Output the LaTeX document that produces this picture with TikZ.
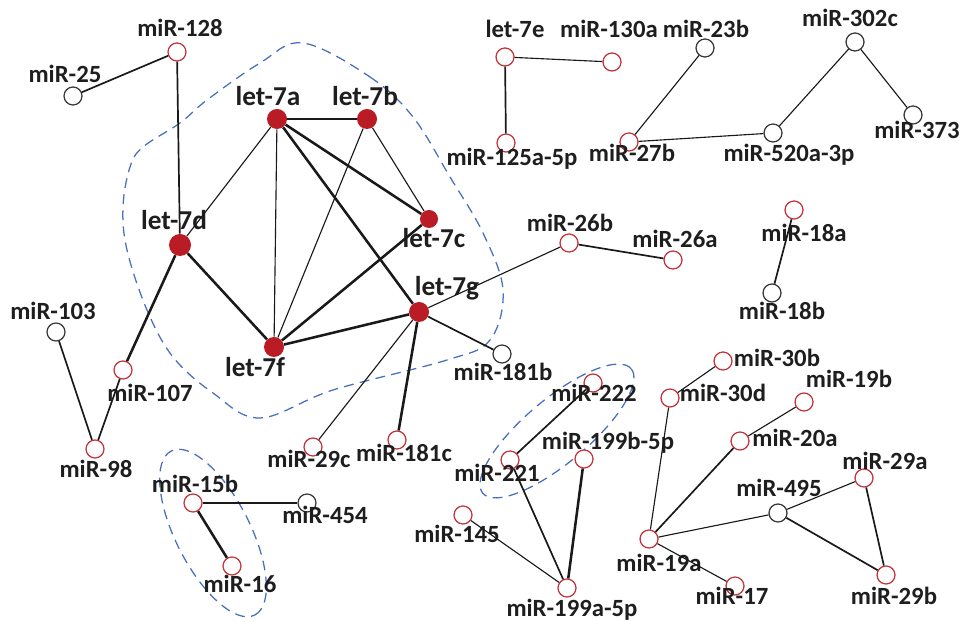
\documentclass[tikz,border=0pt]{standalone}
\usepackage{fontspec}
\setmainfont{Carlito}
\usepackage{xcolor}
\usetikzlibrary{positioning}
\definecolor{hubred}{RGB}{185,28,36}
\definecolor{ringred}{RGB}{196,50,58}
\definecolor{ringgray}{RGB}{55,55,55}
\definecolor{grpblue}{RGB}{72,112,190}
\definecolor{txt}{RGB}{30,30,30}

\begin{document}
\begin{tikzpicture}[x=0.025cm,y=-0.025cm,
  hub/.style={circle,fill=hubred,inner sep=0pt,minimum size=0.5cm},
  ringr/.style={circle,draw=ringred,fill=white,line width=0.9pt,inner sep=0pt,minimum size=0.45cm},
  ringk/.style={circle,draw=ringgray,fill=white,line width=0.9pt,inner sep=0pt,minimum size=0.45cm},
  lbl/.style={font=\bfseries\fontsize{17.6}{20}\selectfont,text=txt,inner sep=0pt,text height=0.62em,text depth=0pt},
  hublbl/.style={lbl,font=\bfseries\fontsize{19.4}{22}\selectfont},
  link/.style={line width=0.8pt,black!90},
  midlink/.style={line width=1.2pt,black!90},
  boldlink/.style={line width=1.8pt,black!90},
  grp/.style={draw=grpblue,dash pattern=on 7pt off 4.5pt,line width=0.9pt},
]
  \useasboundingbox (0,0) rectangle (968,622);

  % groups
  \draw[grp] plot[smooth cycle,tension=0.6] coordinates {
    (303,43) (370,77) (413,117) (450,177) (483,233) (503,290) (490,340)
    (447,360) (333,390) (260,418) (213,393) (173,357) (147,310) (127,250)
    (123,207) (130,167) (143,147) (180,123) (207,100) (260,63)};
  \coordinate (e15) at (213,533);
  \draw[grp,rotate around={-63:(e15)}] (e15) ellipse [x radius=2.3cm,y radius=0.93cm];
  \coordinate (e22) at (557,431);
  \draw[grp,rotate around={40:(e22)}] (e22) ellipse [x radius=2.42cm,y radius=0.8cm];

  % let-7 family
  \node[hub] (l7a) at (277,119) {};
  \node[hub] (l7b) at (367,119) {};
  \node[hub,minimum size=0.45cm] (l7c) at (429,219) {};
  \node[hub,minimum size=0.55cm] (l7d) at (180,245) {};
  \node[hub] (l7f) at (274,347) {};
  \node[hub] (l7g) at (419,312) {};
  \node[hublbl] (l7a-t) at (268,101) {let-7a};
  \node[hublbl] (l7b-t) at (365,101) {let-7b};
  \node[hublbl] (l7c-t) at (434,243) {let-7c};
  \node[hublbl] (l7d-t) at (174,225) {let-7d};
  \node[hublbl] (l7f-t) at (255,372) {let-7f};
  \node[hublbl] (l7g-t) at (447,291) {let-7g};

  % left side
  \node[ringr] (m128) at (177,52) {};
  \node[ringk] (m25) at (73,96) {};
  \node[ringk] (m103) at (56,332) {};
  \node[ringr] (m107) at (123,370) {};
  \node[ringr] (m98) at (95,449) {};
  \node[ringr] (m15b) at (193,503) {};
  \node[ringr] (m16) at (232,566) {};
  \node[ringk] (m454) at (307,503) {};
  \node[ringr] (m29c) at (313,447) {};
  \node[ringr] (m181c) at (397,440) {};
  \node[ringk] (m181b) at (502,354) {};
  \node[lbl] (m128-t) at (180,32) {miR-128};
  \node[lbl] (m25-t) at (65,78) {miR-25};
  \node[lbl] (m103-t) at (53,315) {miR-103};
  \node[lbl] (m107-t) at (150,397) {miR-107};
  \node[lbl] (m98-t) at (96,473) {miR-98};
  \node[lbl] (m15b-t) at (195,488) {miR-15b};
  \node[lbl] (m16-t) at (240,588) {miR-16};
  \node[lbl] (m454-t) at (325,519) {miR-454};
  \node[lbl] (m29c-t) at (309,463) {miR-29c};
  \node[lbl] (m181c-t) at (404,457) {miR-181c};
  \node[lbl] (m181b-t) at (503,376) {miR-181b};

  % top right
  \node[ringr] (l7e) at (505,57) {};
  \node[ringr] (m130a) at (612,62) {};
  \node[ringk] (m23b) at (705,48) {};
  \node[ringk] (m302c) at (855,42) {};
  \node[ringk] (m373) at (913,115) {};
  \node[ringk] (m520) at (773,133) {};
  \node[ringr] (m27b) at (629,142) {};
  \node[ringr] (m125) at (506,143) {};
  \node[ringr] (m26b) at (569,243) {};
  \node[ringr] (m26a) at (673,260) {};
  \node[ringr] (m18a) at (794,210) {};
  \node[ringk] (m18b) at (772,293) {};
  \node[lbl] (l7e-t) at (515,33) {let-7e};
  \node[lbl] (m130a-t) at (609,33) {miR-130a};
  \node[lbl] (m23b-t) at (706,33) {miR-23b};
  \node[lbl] (m302c-t) at (850,22) {miR-302c};
  \node[lbl] (m373-t) at (917,134) {miR-373};
  \node[lbl] (m520-t) at (789,157) {miR-520a-3p};
  \node[lbl] (m27b-t) at (632,157) {miR-27b};
  \node[lbl] (m125-t) at (512,161) {miR-125a-5p};
  \node[lbl] (m26b-t) at (570,227) {miR-26b};
  \node[lbl] (m26a-t) at (675,243) {miR-26a};
  \node[lbl] (m18a-t) at (804,237) {miR-18a};
  \node[lbl] (m18b-t) at (782,315) {miR-18b};

  % bottom right
  \node[ringr] (m222) at (593,383) {};
  \node[ringr] (m221) at (510,460) {};
  \node[ringr] (m199b) at (584,459) {};
  \node[ringr] (m145) at (463,515) {};
  \node[ringr] (m199a) at (567,588) {};
  \node[ringr] (m30b) at (723,361) {};
  \node[ringr] (m30d) at (670,398) {};
  \node[ringr] (m19b) at (804,402) {};
  \node[ringr] (m20a) at (740,441) {};
  \node[ringr] (m29a) at (864,478) {};
  \node[ringk] (m495) at (778,513) {};
  \node[ringr] (m19a) at (649,539) {};
  \node[ringr] (m17) at (735,586) {};
  \node[ringr] (m29b) at (886,575) {};
  \node[lbl] (m222-t) at (594,397) {miR-222};
  \node[lbl] (m221-t) at (497,477) {miR-221};
  \node[lbl] (m199b-t) at (608,445) {miR-199b-5p};
  \node[lbl] (m145-t) at (457,538) {miR-145};
  \node[lbl] (m199a-t) at (572,612) {miR-199a-5p};
  \node[lbl] (m30b-t) at (777,362) {miR-30b};
  \node[lbl] (m30d-t) at (723,397) {miR-30d};
  \node[lbl] (m19b-t) at (849,383) {miR-19b};
  \node[lbl] (m20a-t) at (795,442) {miR-20a};
  \node[lbl] (m29a-t) at (885,465) {miR-29a};
  \node[lbl] (m495-t) at (779,492) {miR-495};
  \node[lbl] (m19a-t) at (659,567) {miR-19a};
  \node[lbl] (m17-t) at (732,600) {miR-17};
  \node[lbl] (m29b-t) at (894,600) {miR-29b};

  % links
  \draw[midlink] (m25) -- (m128);
  \draw[midlink] (m128) -- (l7d);
  \draw[link] (l7a) -- (l7b);
  \draw[link] (l7a) -- (l7d);
  \draw[link] (l7a) -- (l7f);
  \draw[boldlink] (l7a) -- (l7c);
  \draw[boldlink] (l7a) -- (l7g);
  \draw[link] (l7b) -- (l7c);
  \draw[link] (l7b) -- (l7f);
  \draw[boldlink] (l7d) -- (l7f);
  \draw[boldlink] (l7f) -- (l7c);
  \draw[boldlink] (l7f) -- (l7g);
  \draw[boldlink] (l7d) -- (m107);
  \draw[midlink] (m107) -- (m98);
  \draw[midlink] (m103) -- (m98);
  \draw[link] (l7g) -- (m26b);
  \draw[midlink] (m26b) -- (m26a);
  \draw[midlink] (l7g) -- (m181b);
  \draw[link] (l7g) -- (m29c);
  \draw[boldlink] (l7g) -- (m181c);
  \draw[midlink] (m15b) -- (m454);
  \draw[boldlink] (m15b) -- (m16);
  \draw[link] (l7e) -- (m130a);
  \draw[midlink] (l7e) -- (m125);
  \draw[link] (m23b) -- (m27b);
  \draw[link] (m27b) -- (m520);
  \draw[link] (m520) -- (m302c);
  \draw[link] (m302c) -- (m373);
  \draw[midlink] (m18a) -- (m18b);
  \draw[midlink] (m222) -- (m221);
  \draw[midlink] (m221) -- (m199a);
  \draw[boldlink] (m199b) -- (m199a);
  \draw[link] (m145) -- (m199a);
  \draw[link] (m30b) -- (m30d);
  \draw[link] (m30d) -- (m19a);
  \draw[link] (m19b) -- (m20a);
  \draw[midlink] (m20a) -- (m19a);
  \draw[link] (m19a) -- (m495);
  \draw[link] (m19a) -- (m17);
  \draw[link] (m495) -- (m29a);
  \draw[midlink] (m495) -- (m29b);
  \draw[midlink] (m29a) -- (m29b);
\end{tikzpicture}
\end{document}
